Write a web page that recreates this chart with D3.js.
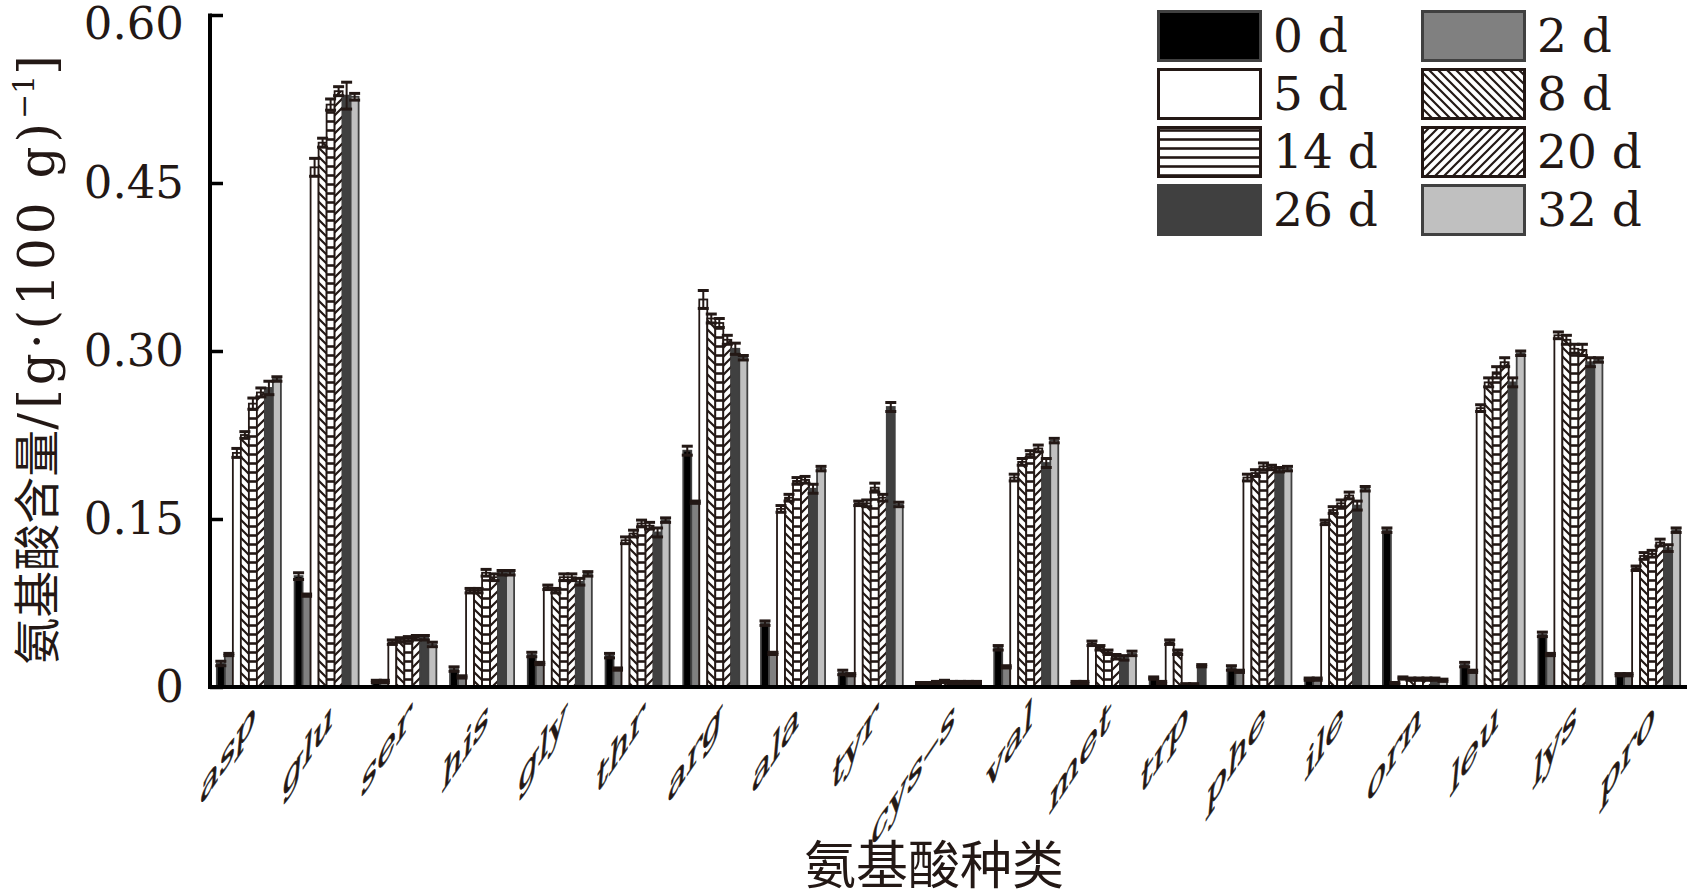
<!DOCTYPE html>
<html><head><meta charset="utf-8">
<script src="https://cdn.jsdelivr.net/npm/d3@7/dist/d3.min.js"></script>
<style>
html,body{margin:0;padding:0;background:#fff;}
svg{display:block;}
</style></head>
<body>
<script>
const categories = ["asp","glu","ser","his","gly","thr","arg","ala","tyr","cys–s","val","met","trp","phe","ile","orn","leu","lys","pro"];
const seriesNames = ["0 d","2 d","5 d","8 d","14 d","20 d","26 d","32 d"];

const d0  = [0.021,0.099,0.005,0.016,0.029,0.028,0.211,0.057,0.013,0.003,0.035,0.004,0.008,0.017,0.007,0.140,0.020,0.047,0.011];
const d2  = [0.029,0.082,0.005,0.009,0.021,0.016,0.165,0.030,0.011,0.003,0.018,0.004,0.004,0.014,0.007,0.003,0.014,0.029,0.011];
const d5  = [0.209,0.464,0.040,0.086,0.089,0.131,0.346,0.159,0.164,0.004,0.187,0.039,0.040,0.187,0.147,0.008,0.249,0.314,0.106];
const d8  = [0.225,0.486,0.042,0.086,0.086,0.137,0.329,0.169,0.164,0.005,0.201,0.035,0.031,0.191,0.158,0.007,0.272,0.310,0.117];
const d14 = [0.253,0.520,0.043,0.102,0.098,0.146,0.325,0.184,0.178,0.004,0.208,0.031,0.002,0.197,0.164,0.007,0.281,0.302,0.119];
const d20 = [0.263,0.532,0.044,0.098,0.098,0.144,0.310,0.185,0.169,0.004,0.213,0.027,0.002,0.196,0.171,0.007,0.290,0.301,0.129];
const d26 = [0.267,0.528,0.044,0.102,0.094,0.138,0.302,0.177,0.250,0.004,0.200,0.026,0.019,0.194,0.162,0.007,0.272,0.290,0.124];
const d32 = [0.275,0.527,0.038,0.102,0.101,0.149,0.294,0.195,0.163,0.004,0.220,0.030,0.000,0.195,0.177,0.006,0.298,0.292,0.140];

const e0  = [0.002,0.003,0.001,0.002,0.002,0.002,0.004,0.002,0.002,0.001,0.002,0.001,0.001,0.002,0.001,0.002,0.002,0.002,0.001];
const e2  = [0.001,0.001,0.001,0.001,0.001,0.001,0.001,0.001,0.001,0.001,0.001,0.001,0.001,0.001,0.001,0.001,0.001,0.001,0.001];
const e5  = [0.004,0.008,0.002,0.002,0.002,0.003,0.008,0.003,0.002,0.001,0.003,0.002,0.002,0.003,0.002,0.001,0.003,0.003,0.002];
const e8  = [0.003,0.004,0.002,0.002,0.002,0.003,0.004,0.003,0.003,0.001,0.003,0.002,0.002,0.003,0.003,0.001,0.004,0.004,0.003];
const e14 = [0.005,0.005,0.002,0.003,0.003,0.003,0.004,0.003,0.004,0.001,0.003,0.002,0.001,0.003,0.003,0.001,0.005,0.004,0.003];
const e20 = [0.004,0.004,0.002,0.003,0.003,0.003,0.004,0.003,0.003,0.001,0.003,0.002,0.001,0.002,0.003,0.001,0.004,0.005,0.003];
const e26 = [0.006,0.012,0.002,0.002,0.003,0.004,0.005,0.004,0.004,0.001,0.004,0.002,0.001,0.002,0.004,0.001,0.004,0.004,0.003];
const e32 = [0.002,0.003,0.002,0.002,0.002,0.002,0.002,0.002,0.002,0.001,0.002,0.002,0.000,0.002,0.002,0.001,0.002,0.002,0.002];

const yTicks = [0, 0.15, 0.30, 0.45, 0.60];
const yTickLabels = ["0","0.15","0.30","0.45","0.60"];

const values = [d0,d2,d5,d8,d14,d20,d26,d32];
const errors = [e0,e2,e5,e8,e14,e20,e26,e32];

const W = 1687, H = 894;
const ink = "#231815";
const styles = [
  {fill:"#000000", stroke:"#404040"},
  {fill:"#808080", stroke:"#404040"},
  {fill:"#ffffff", stroke:ink},
  {fill:"url(#hatchBack)", stroke:ink},
  {fill:"url(#hatchHoriz)", stroke:ink},
  {fill:"url(#hatchFwd)", stroke:ink},
  {fill:"#404040", stroke:"#404040"},
  {fill:"#c0c0c0", stroke:"#404040"}
];

const svg = d3.select("body").append("svg").attr("width", W).attr("height", H);
const defs = svg.append("defs");
const P = 9;
function pat(id, draw){
  const p = defs.append("pattern").attr("id", id).attr("patternUnits","userSpaceOnUse")
    .attr("width", P).attr("height", P);
  p.append("rect").attr("width",P).attr("height",P).attr("fill","#fff");
  draw(p);
}
pat("hatchBack", p => p.append("path").attr("d",`M0,0L${P},${P}M${-P/2},${P/2}L${P/2},${P*1.5}M${P/2},${-P/2}L${P*1.5},${P/2}`).attr("stroke",ink).attr("stroke-width",2.2));
pat("hatchFwd", p => p.append("path").attr("d",`M0,${P}L${P},0M${-P/2},${P/2}L${P/2},${-P/2}M${P/2},${P*1.5}L${P*1.5},${P/2}`).attr("stroke",ink).attr("stroke-width",2.2));
pat("hatchHoriz", p => p.append("path").attr("d",`M0,${P/2}L${P},${P/2}`).attr("stroke",ink).attr("stroke-width",2.6));

const x0 = 210, x1 = 1687, yTop = 15, yBot = 687;
const x = d3.scaleBand().domain(categories).range([x0, x1]).paddingInner(0.176).paddingOuter(0.088);
const xi = d3.scaleBand().domain(seriesNames).range([0, x.bandwidth()]);
const y = d3.scaleLinear().domain([0, 0.6]).range([yBot, yTop]);

// bars
const g = svg.append("g");
values.forEach((vals, si) => {
  const s = styles[si];
  g.append("g").selectAll("rect").data(categories).join("rect")
    .attr("x", c => x(c) + xi(seriesNames[si]))
    .attr("y", (c,i) => y(vals[i]))
    .attr("width", xi.bandwidth())
    .attr("height", (c,i) => y(0) - y(vals[i]))
    .attr("fill", s.fill).attr("stroke", s.stroke).attr("stroke-width", 1.8);
});
// error bars
values.forEach((vals, si) => {
  const eg = g.append("g").attr("stroke", ink);
  categories.forEach((c, i) => {
    const cx = x(c) + xi(seriesNames[si]) + xi.bandwidth()/2;
    const v = vals[i], e = errors[si][i];
    if (v <= 0) return;
    eg.append("line").attr("x1",cx).attr("x2",cx).attr("y1",y(v+e)).attr("y2",y(v-e)).attr("stroke-width",2);
    [v+e, v-e].forEach(t => {
      eg.append("line").attr("x1",cx-5.5).attr("x2",cx+5.5).attr("y1",y(t)).attr("y2",y(t)).attr("stroke-width",3);
    });
  });
});

// y axis
const yAxis = d3.axisLeft(y).tickValues(yTicks).tickFormat((d,i)=>yTickLabels[i]).tickSize(-13).tickSizeOuter(0).tickPadding(26);
const ya = svg.append("g").attr("transform",`translate(${x0},0)`).call(yAxis);
ya.select(".domain").attr("stroke","#000").attr("stroke-width",4).attr("d",`M0,${yTop-1.5}V${yBot}`);
ya.selectAll(".tick line").attr("stroke","#000").attr("stroke-width",3.5);
ya.selectAll(".tick text").attr("font-family","DejaVu Serif").attr("font-size",45).attr("fill",ink)
  .attr("y", d => d === 0.6 ? 9 : 0);

// x axis
const xAxis = d3.axisBottom(x).tickSize(0).tickSizeOuter(0).tickPadding(0);
const xa = svg.append("g").attr("transform",`translate(0,${yBot})`).call(xAxis);
xa.select(".domain").attr("stroke","#000").attr("stroke-width",4).attr("d",`M${x0-2},0H${x1}`);
xa.selectAll(".tick text")
  .attr("font-family","DejaVu Serif").attr("font-size",37).attr("fill",ink)
  .attr("stroke",ink).attr("stroke-width",0.6)
  .attr("text-anchor","end").attr("y",0).attr("dy",0)
  .attr("transform","translate(6,38) skewY(-56) skewX(-6) scale(0.86,1)");

// axis titles
svg.append("text").attr("transform","translate(54,360) rotate(-90)")
  .attr("text-anchor","middle").attr("font-family","DejaVu Serif, Noto Sans CJK SC").attr("font-size",50).attr("fill",ink)
  .call(t => {
    t.append("tspan").attr("font-family","Noto Sans CJK SC").attr("font-size",47).text("氨基酸含量");
    t.append("tspan").attr("letter-spacing",4).text("/[g·(100 g)");
    t.append("tspan").attr("font-size",30).attr("dy",-20).text("−1");
    t.append("tspan").attr("dy",20).text("]");
  });
svg.append("text").attr("x",934).attr("y",884).attr("text-anchor","middle")
  .attr("font-family","Noto Sans CJK SC").attr("font-size",52).attr("fill",ink).text("氨基酸种类");

// legend
const legCols = [1157, 1421], legRows = [10, 68, 126, 184];
const lg = svg.append("g");
seriesNames.forEach((n, i) => {
  const col = i % 2, row = Math.floor(i/2);
  const bx = legCols[col], by = legRows[row];
  lg.append("rect").attr("x",bx+1.5).attr("y",by+1.5).attr("width",102).attr("height",49)
    .attr("fill",styles[i].fill).attr("stroke",styles[i].stroke).attr("stroke-width",3);
  lg.append("text").attr("x", bx + 116).attr("y", by + 42)
    .attr("font-family","DejaVu Serif").attr("font-size",47).attr("fill",ink).text(n);
});
</script>
</body></html>
